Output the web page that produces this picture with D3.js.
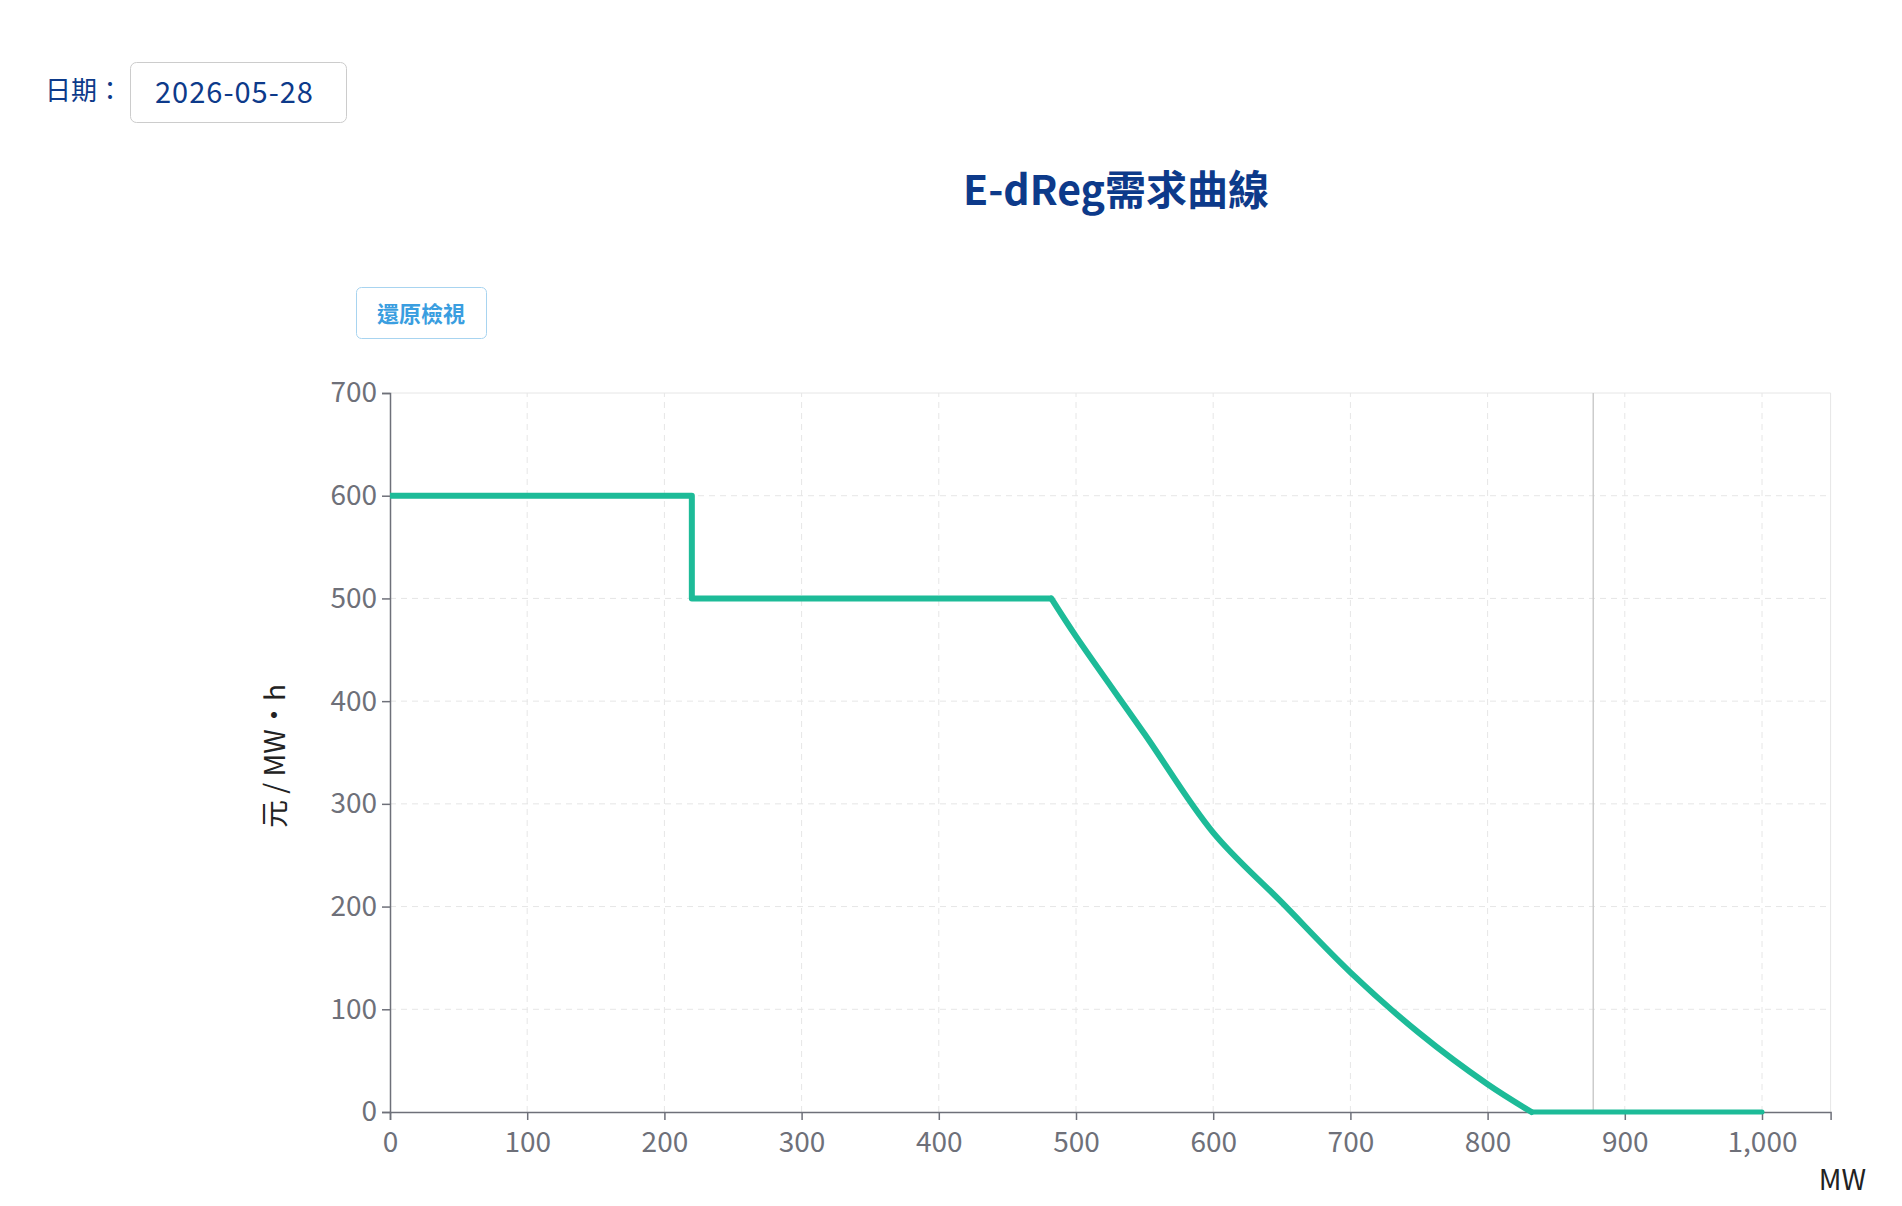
<!DOCTYPE html><html><head><meta charset="utf-8"><script src="https://cdn.jsdelivr.net/npm/d3@7"></script>
<style>body{margin:0;background:#fff;font-family:"Noto Sans CJK TC","Noto Sans",sans-serif}</style></head><body>
<svg id="c" width="1902" height="1206"></svg>
<script>
const mw=[0,220,220,482,500,550,600,650,700,750,800,832,1000];
const price=[600,600,500,500,463,368,272,204,136,77,27,0,0];
const xTicks=[0,100,200,300,400,500,600,700,800,900,1000];
const yTicks=[0,100,200,300,400,500,600,700];
const svg=d3.select("#c");
const f="'Noto Sans CJK TC','Noto Sans',sans-serif";
svg.append("text").attr("x",45).attr("y",100).attr("font-size",26).attr("fill","#0d3a8a").attr("font-family",f).text("日期：");
svg.append("rect").attr("x",130.5).attr("y",62.5).attr("width",216).attr("height",60).attr("rx",6).attr("fill","#fff").attr("stroke","#ccc");
svg.append("clipPath").attr("id","dc").append("rect").attr("x",130).attr("y",60).attr("width",192).attr("height",65);
svg.append("text").attr("x",155).attr("y",103).attr("font-size",29).attr("letter-spacing",1).attr("fill","#0d3a8a").attr("font-family",f).text("2026-05-28").attr("clip-path","url(#dc)");
svg.append("text").attr("x",1116).attr("y",205).attr("text-anchor","middle").attr("font-size",41).attr("font-weight","bold").attr("fill","#0d3a8a").attr("font-family",f).text("E-dReg需求曲線");
svg.append("rect").attr("x",356.5).attr("y",287.5).attr("width",130).attr("height",51).attr("rx",5).attr("fill","#fff").attr("stroke","#a8d4f0");
svg.append("text").attr("x",421).attr("y",322).attr("text-anchor","middle").attr("font-size",22).attr("font-weight","bold").attr("fill","#3a9ee0").attr("font-family",f).text("還原檢視");
const x=d3.scaleLinear().domain([0,1000]).range([390,1762]);
const y=d3.scaleLinear().domain([0,700]).range([1112,393]);
const g=svg.append("g");
xTicks.concat([1050]).forEach(t=>{if(t>0)g.append("line").attr("x1",x(t)).attr("x2",x(t)).attr("y1",y(0)).attr("y2",y(700)).attr("stroke","#e6e6e6").attr("stroke-dasharray",t==1050?null:"6,5");});
yTicks.forEach(t=>{if(t>0)g.append("line").attr("x1",x(0)).attr("x2",x(1050)).attr("y1",y(t)).attr("y2",y(t)).attr("stroke","#e6e6e6").attr("stroke-dasharray",t==700?null:"6,5");});
g.append("line").attr("x1",x(877)).attr("x2",x(877)).attr("y1",y(0)).attr("y2",y(700)).attr("stroke","#ccc").attr("stroke-width",1.5);
const xa=svg.append("g").attr("transform",`translate(0,${y(0)})`).call(d3.axisBottom(x.copy().domain([0,1050]).range([390,x(1050)])).tickValues(xTicks).tickSize(8).tickFormat(d3.format(",")));
const ya=svg.append("g").attr("transform",`translate(${x(0)},0)`).call(d3.axisLeft(y).tickValues(yTicks).tickSize(8));
[xa,ya].forEach(a=>{a.selectAll("path,line").attr("stroke","#6e7079").attr("stroke-width",1.5);a.selectAll("text").attr("fill","#6e7079").attr("font-size",28).attr("font-family",f);});
xa.selectAll("text").attr("dy","1.05em");
ya.selectAll("text").attr("dx","-2");
svg.append("text").attr("transform","translate(285,756) rotate(-90)").attr("text-anchor","middle").attr("font-size",28).attr("font-family",f).attr("fill","#222").text("元 / MW·h");
svg.append("text").attr("x",1866).attr("y",1190).attr("text-anchor","end").attr("font-size",28).attr("font-family",f).attr("fill","#222").text("MW");
const pts=mw.map((m,i)=>[m,price[i]]);
svg.append("path").datum(pts.slice(0,4)).attr("d",d3.line().x(d=>x(d[0])).y(d=>y(d[1]))).attr("fill","none").attr("stroke","#1dbb98").attr("stroke-width",6).attr("stroke-linejoin","round");
svg.append("path").datum(pts.slice(3,12)).attr("d",d3.line().x(d=>x(d[0])).y(d=>y(d[1])).curve(d3.curveCatmullRom)).attr("fill","none").attr("stroke","#1dbb98").attr("stroke-width",6).attr("stroke-linecap","round");
svg.append("path").datum(pts.slice(11)).attr("d",d3.line().x(d=>x(d[0])).y(d=>y(d[1]))).attr("fill","none").attr("stroke","#1dbb98").attr("stroke-width",5).attr("stroke-linecap","round");
</script></body></html>
